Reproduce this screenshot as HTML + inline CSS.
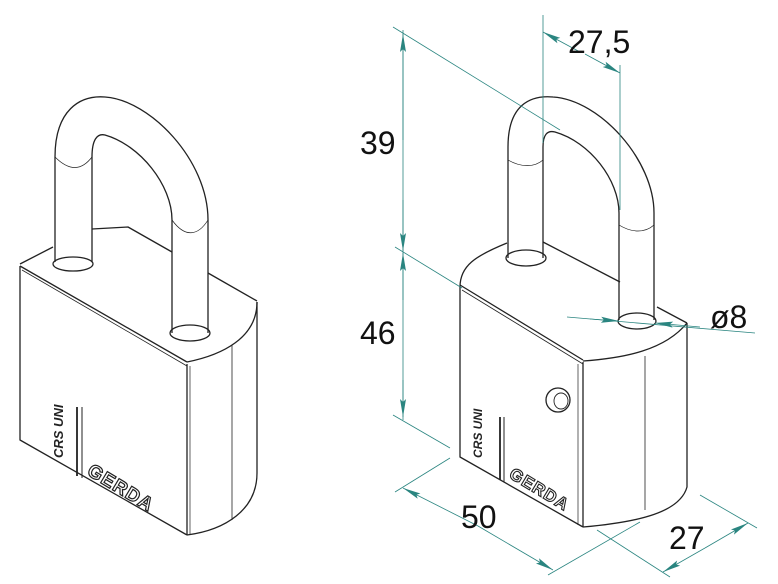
<!DOCTYPE html>
<html><head><meta charset="utf-8"><style>
html,body{margin:0;padding:0;background:#fff;}
svg{display:block}
</style></head><body>
<svg width="778" height="584" viewBox="0 0 778 584" xmlns="http://www.w3.org/2000/svg">
<defs>
<marker id="a" viewBox="0 0 18 8" refX="18" refY="4" markerWidth="18" markerHeight="8" markerUnits="userSpaceOnUse" orient="auto-start-reverse"><path d="M0,1 L18,4 L0,7 L3,4 Z" fill="#2a8580"/></marker>
</defs>
<rect width="778" height="584" fill="#fff"/>
<!-- LEFT LOCK -->
<g fill="none" stroke="#222" stroke-width="1.3" stroke-linejoin="round">
  <path d="M55,262 L55,157 C55,110 80,95 105,97 C150,100 208,160 208,220 L208,333"/>
  <path d="M92,262 L92,157 C92,140 97,133 105,135 C140,145 172,185 172,220 L172,333"/>
  <path d="M55,157 C70,172 82,170 92,157" stroke-width="0.7"/>
  <path d="M172,220 C185,238 198,236 208,220" stroke-width="0.7"/>
  <ellipse cx="73" cy="264" rx="20" ry="7"/>
  <ellipse cx="190" cy="333" rx="20" ry="8"/>
  <path d="M20,264 L53,247"/>
  <path d="M92,229 L128,227 L172,252"/>
  <path d="M208,273 L257,301"/>
  <path d="M20,266 L187,362"/>
  <path d="M22,270 L187,366" stroke-width="0.8"/>
  <path d="M187,362 C222,355 257,338 257,302"/>
  <path d="M20,266 L20,440 L187,535"/>
  <path d="M187,364 L187,535"/>
  <path d="M190,366 L190,534" stroke-width="0.7"/>
  <path d="M232,345 L232,520" stroke-width="0.8"/>
  <path d="M257,302 L257,473 C257,510 225,530 187,535"/>
  <path d="M77,407 L77,476" stroke-width="1.8"/>
  <path d="M82,407 L82,478" stroke-width="1"/>
</g>
<text x="0" y="0" transform="translate(63,458) rotate(-90)" font-family="Liberation Sans, sans-serif" font-weight="bold" font-style="italic" font-size="13" fill="#222">CRS UNI</text>
<text x="0" y="0" transform="translate(86,474) rotate(31)" font-family="Liberation Sans, sans-serif" font-weight="bold" font-size="19" letter-spacing="1" fill="#fff" stroke="#222" stroke-width="1.2">GERDA</text>

<!-- RIGHT LOCK -->
<g fill="none" stroke="#222" stroke-width="1.3" stroke-linejoin="round">
  <path d="M508,258 L508,147 C508,105 530,95 553,97 C600,100 654,160 654,213 L654,320"/>
  <path d="M543,258 L543,147 C543,135 547,130 555,132 C590,142 619,180 619,213 L619,320"/>
  <path d="M508,160 C522,168 535,167 543,160" stroke-width="0.7"/>
  <path d="M619,225 C632,233 645,233 654,225" stroke-width="0.7"/>
  <ellipse cx="526" cy="258" rx="20" ry="8"/>
  <ellipse cx="637" cy="321" rx="19" ry="8"/>
  <path d="M460,287 C460,266 475,256 507,243"/>
  <path d="M543,242 L620,282"/>
  <path d="M657,307 L687,323"/>
  <path d="M460,285 L583,360"/>
  <path d="M462,290 L583,364" stroke-width="0.8"/>
  <path d="M583,361 C625,358 665,350 687,323"/>
  <path d="M460,287 L460,457 L583,527"/>
  <path d="M583,362 L583,527"/>
  <path d="M578,364 L578,525" stroke-width="0.7"/>
  <path d="M645,356 L645,510" stroke-width="0.8"/>
  <path d="M687,323 L687,487 C680,512 640,522 583,527"/>
  <circle cx="558" cy="400" r="12"/>
  <ellipse cx="561" cy="401" rx="7" ry="8" stroke-width="0.9"/>
  <path d="M500,417 L500,480" stroke-width="1.8"/>
  <path d="M504,417 L504,482" stroke-width="1"/>
</g>
<text x="0" y="0" transform="translate(482,458) rotate(-90)" font-family="Liberation Sans, sans-serif" font-weight="bold" font-style="italic" font-size="12" fill="#222">CRS UNI</text>
<text x="0" y="0" transform="translate(508,477) rotate(31)" font-family="Liberation Sans, sans-serif" font-weight="bold" font-size="17" letter-spacing="1" fill="#fff" stroke="#222" stroke-width="1.1">GERDA</text>

<!-- DIMENSIONS -->
<g stroke="#2a8580" stroke-width="0.8" fill="none">
  <line x1="403" y1="30" x2="403" y2="420"/>
  <line x1="403" y1="140" x2="403" y2="34" marker-end="url(#a)"/>
  <line x1="403" y1="200" x2="403" y2="251" marker-end="url(#a)"/>
  <line x1="403" y1="300" x2="403" y2="253" marker-end="url(#a)"/>
  <line x1="403" y1="380" x2="403" y2="417" marker-end="url(#a)"/>
  <line x1="393" y1="27" x2="560" y2="130"/>
  <line x1="395" y1="247" x2="462" y2="288"/>
  <line x1="393" y1="415" x2="450" y2="448"/>
  <line x1="543" y1="15" x2="543" y2="143"/>
  <line x1="620" y1="65" x2="620" y2="210"/>
  <line x1="580" y1="52" x2="543" y2="32" marker-end="url(#a)"/>
  <line x1="585" y1="54" x2="620" y2="73" marker-end="url(#a)"/>
  <line x1="567" y1="317" x2="755" y2="333"/>
  <line x1="590" y1="319" x2="619" y2="321" marker-end="url(#a)"/>
  <line x1="700" y1="327" x2="655" y2="323" marker-end="url(#a)"/>
  <line x1="450" y1="458" x2="395" y2="492"/>
  <line x1="640" y1="522" x2="548" y2="575"/>
  <line x1="478" y1="526" x2="403" y2="488" marker-end="url(#a)"/>
  <line x1="478" y1="526" x2="553" y2="570" marker-end="url(#a)"/>
  <line x1="597" y1="530" x2="670" y2="577"/>
  <line x1="700" y1="495" x2="757" y2="528"/>
  <line x1="705" y1="548" x2="663" y2="572" marker-end="url(#a)"/>
  <line x1="705" y1="548" x2="748" y2="523" marker-end="url(#a)"/>
</g>
<g font-family="Liberation Sans, sans-serif" font-size="32" fill="#111">
  <text x="360" y="154">39</text>
  <text x="360" y="344">46</text>
  <text x="568" y="53">27,5</text>
  <text x="710" y="328">ø8</text>
  <text x="461" y="528">50</text>
  <text x="669" y="549">27</text>
</g>
</svg>
</body></html>
